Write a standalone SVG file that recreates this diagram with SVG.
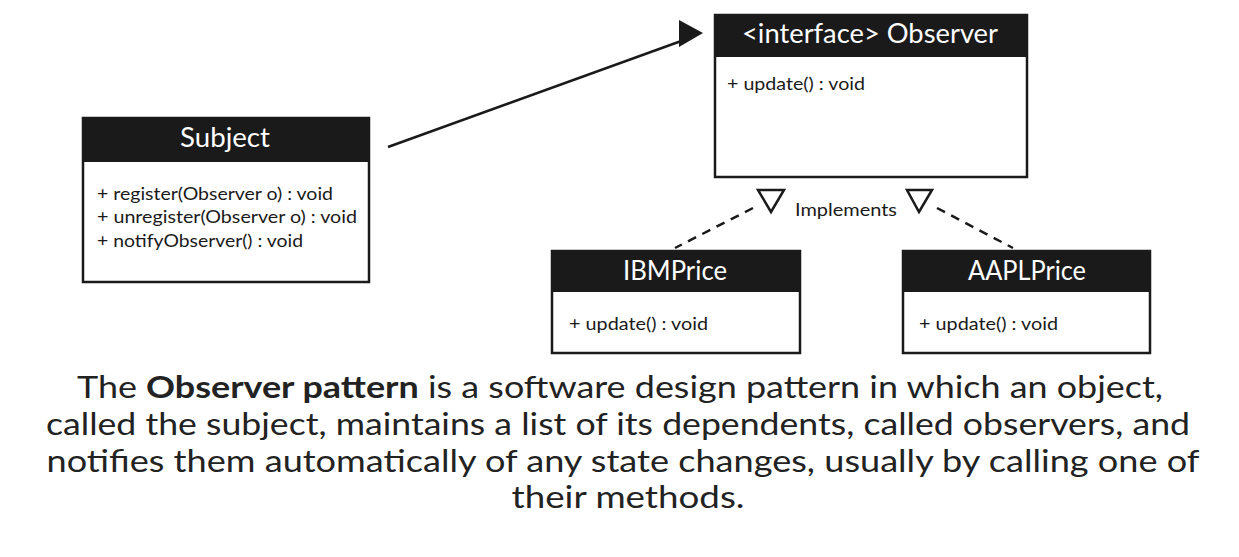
<svg xmlns="http://www.w3.org/2000/svg" width="1239" height="557" viewBox="0 0 1239 557">
<style>
.box{fill:#ffffff;stroke:#1a1a1a;stroke-width:2.5}
.hdr{fill:#1a1a1a}
.title{font-family:Lato,"Open Sans",sans-serif;font-size:26px;fill:#ffffff;text-anchor:middle}
.m{font-family:Lato,"Open Sans",sans-serif;font-size:17px;fill:#1a1a1a}
.dash{stroke:#1a1a1a;stroke-width:2.5;stroke-dasharray:9 7;fill:none}
.tri{fill:#ffffff;stroke:#1a1a1a;stroke-width:2.5;stroke-linejoin:miter}
.para{font-family:Lato,"Open Sans",sans-serif;font-size:30px;fill:#222222;text-anchor:middle}
</style>
<rect width="1239" height="557" fill="#ffffff"/>
<g id="subject">
<rect class="box" x="83" y="118" width="286" height="164"/>
<rect class="hdr" x="83" y="118" width="286" height="44"/>
<text class="title" x="225" y="147" textLength="90" lengthAdjust="spacingAndGlyphs">Subject</text>
<text class="m" x="97" y="200" textLength="236" lengthAdjust="spacingAndGlyphs">+ register(Observer o) : void</text>
<text class="m" x="97" y="223" textLength="260" lengthAdjust="spacingAndGlyphs">+ unregister(Observer o) : void</text>
<text class="m" x="97" y="247" textLength="206" lengthAdjust="spacingAndGlyphs">+ notifyObserver() : void</text>
</g>
<g id="observer">
<rect class="box" x="715" y="15" width="312" height="162"/>
<rect class="hdr" x="715" y="15" width="312" height="42"/>
<text class="title" x="870" y="43" textLength="256" lengthAdjust="spacingAndGlyphs">&lt;interface&gt; Observer</text>
<text class="m" x="727" y="90" textLength="138" lengthAdjust="spacingAndGlyphs">+ update() : void</text>
</g>
<g id="ibmprice">
<rect class="box" x="552" y="251" width="248" height="102"/>
<rect class="hdr" x="552" y="251" width="248" height="41"/>
<text class="title" x="675" y="280" textLength="104" lengthAdjust="spacingAndGlyphs">IBMPrice</text>
<text class="m" x="569" y="330" textLength="139" lengthAdjust="spacingAndGlyphs">+ update() : void</text>
</g>
<g id="aaplprice">
<rect class="box" x="903" y="251" width="247" height="102"/>
<rect class="hdr" x="903" y="251" width="247" height="41"/>
<text class="title" x="1027" y="280" textLength="118" lengthAdjust="spacingAndGlyphs">AAPLPrice</text>
<text class="m" x="919" y="330" textLength="139" lengthAdjust="spacingAndGlyphs">+ update() : void</text>
</g>
<g id="connectors">
<line x1="388" y1="147" x2="684" y2="40" stroke="#1a1a1a" stroke-width="2.5"/>
<polygon points="679,20 703,33 679,47" fill="#1a1a1a"/>
<line class="dash" x1="753" y1="208" x2="675" y2="248"/>
<line class="dash" x1="937" y1="208" x2="1013" y2="248"/>
<polygon class="tri" points="758,190 784,190 771,212"/>
<polygon class="tri" points="907,190 932,190 919,212"/>
<text class="m" x="795" y="216" textLength="102" lengthAdjust="spacingAndGlyphs">Implements</text>
</g>
<g id="description">
<text class="para" x="620" y="398" textLength="1086" lengthAdjust="spacingAndGlyphs">The <tspan font-weight="bold">Observer pattern</tspan> is a software design pattern in which an object,</text>
<text class="para" x="618" y="435" textLength="1144" lengthAdjust="spacingAndGlyphs">called the subject, maintains a list of its dependents, called observers, and</text>
<text class="para" x="623" y="472" textLength="1153" lengthAdjust="spacingAndGlyphs">notifies them automatically of any state changes, usually by calling one of</text>
<text class="para" x="628" y="508" textLength="233" lengthAdjust="spacingAndGlyphs">their methods.</text>
</g>
</svg>
